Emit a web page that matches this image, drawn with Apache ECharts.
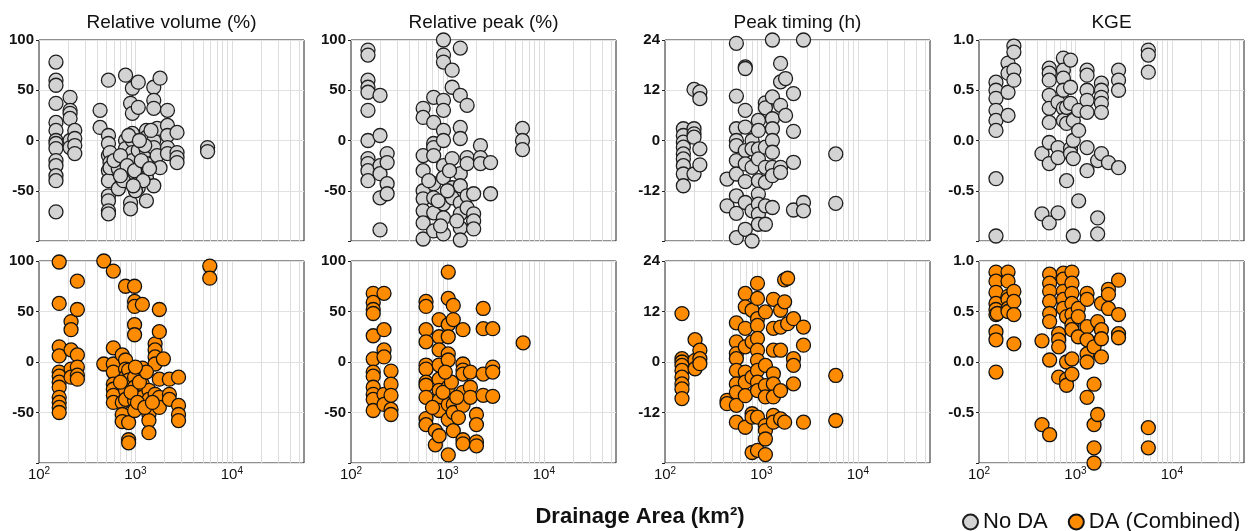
<!DOCTYPE html>
<html><head><meta charset="utf-8">
<script src="https://cdn.jsdelivr.net/npm/echarts@6/dist/echarts.min.js"></script>
<style>html,body{margin:0;padding:0;background:#fff}#c{width:1250px;height:531px}</style>
</head><body><div id="c"></div>
<script>
const panelTitles = ['Relative volume (%)', 'Relative peak (%)', 'Peak timing (h)', 'KGE'];
const yMins = [-100, -100, -24, -1];
const yMaxs = [100, 100, 24, 1];
const yIntervals = [50, 50, 12, 0.5];
const xTickExps = {2: '2', 3: '3', 4: '4'};
const gridTicks = [200,300,400,500,600,700,800,900,1000,2000,3000,4000,5000,6000,7000,8000,9000,10000,20000,30000,40000,50000];
const seriesNames = ['No DA', 'DA (Combined)'];

const volNoDA = [[150,78],[150,60],[150,55],[150,37],[150,18],[150,10],[150,0],[150,-3],[150,-8],[150,-20],[150,-25],[150,-35],[150,-40],[150,-71],
[210,43],[210,30],[210,27],[210,22],[210,0],[210,-7],[235,10],[235,2],[235,-5],[235,-13],[430,30],[430,13],
[525,60],[525,5],[525,-3],[525,-15],[525,-30],[525,-40],[525,-55],[525,-60],[525,-70],[525,-73],[545,-12],[545,-22],[545,-27],
[665,-28],[665,-48],[790,65],[790,0],[790,-8],[790,-33],[890,37],[890,-35],[890,-40],[890,-62],[890,-68],
[930,52],[930,27],[930,7],[930,0],[930,-12],[930,-20],[1070,58],[1070,33],[1070,-10],[1070,-33],[1070,-47],
[1300,10],[1300,3],[1300,-10],[1300,-23],[1300,-37],[1300,-60],[1550,53],[1550,40],[1550,32],[1550,0],[1550,-7],[1550,-45],
[1680,12],[1680,-15],[1800,62],[1800,-27],[2150,30],[2150,15],[2150,5],[2150,-7],[2150,-13],
[2700,8],[2700,-12],[2700,-17],[2700,-22],[5600,-7],[5600,-11],
[600,-20],[700,-15],[750,-40],[820,-25],[980,-30],[1150,-20],[1200,-40],[1400,-28],[1000,-50],[1250,-5],[850,5],[1100,0],[700,-35],[950,-45],[1450,10]];

const volDA = [[162,99],[162,58],[162,15],[162,6],[162,-10],[162,-14],[162,-20],[162,-25],[162,-35],[162,-40],[162,-45],[162,-50],
[215,40],[215,32],[215,12],[215,-7],[215,-15],[250,80],[250,52],[250,7],[250,-5],[250,-13],[250,-17],[470,100],[470,-2],
[590,90],[590,14],[590,-2],[590,-10],[590,-22],[590,-27],[590,-33],[590,-40],[730,7],[730,-40],[730,-52],[730,-59],
[790,75],[790,2],[790,-7],[790,-15],[790,-28],[790,-37],[850,-8],[850,-18],[850,-60],[850,-77],[850,-80],
[980,75],[980,60],[980,55],[980,37],[980,27],[980,-15],[980,-25],[980,-38],[980,-48],[1180,57],[1180,-6],[1180,-22],[1180,-35],
[1380,-28],[1380,-37],[1380,-45],[1380,-52],[1380,-58],[1380,-70],[1600,18],[1600,12],[1600,5],[1600,-2],[1600,-32],
[1770,52],[1770,30],[1770,-17],[1770,-35],[1770,-45],[1950,3],[2250,-17],[2250,-32],[2250,-37],
[2800,-15],[2800,-43],[2800,-52],[2800,-58],[5900,95],[5900,83],
[900,-30],[1050,-40],[1100,-20],[1250,-45],[700,-20],[1300,-10],[1500,-40],[1000,-5]];

const peakNoDA = [[150,90],[150,85],[150,60],[150,53],[150,48],[150,30],[150,0],[150,-18],[150,-23],[150,-30],[150,-40],
[200,45],[200,5],[200,-25],[200,-33],[200,-57],[200,-89],[237,-13],[237,-22],[237,-43],[237,-53],
[560,32],[560,23],[560,-15],[560,-30],[560,-50],[560,-58],[560,-70],[560,-82],[560,-98],
[720,43],[720,18],[720,-3],[720,-7],[720,-15],[720,-43],[720,-57],[720,-72],[720,-90],
[910,100],[910,85],[910,78],[910,40],[910,30],[910,10],[910,0],[910,-25],[910,-37],[910,-63],[910,-77],[910,-93],
[1120,70],[1120,53],[1120,-18],[1120,-47],[1120,-57],
[1360,92],[1360,45],[1360,13],[1360,2],[1360,-33],[1360,-45],[1360,-62],[1360,-73],[1360,-87],[1360,-99],
[1600,35],[1600,-17],[1600,-23],[1600,-55],[1600,-67],[1870,-53],[1870,-73],[1870,-80],[1870,-88],
[2200,-5],[2200,-17],[2200,-23],[2800,-22],[2800,-53],[6000,12],[6000,0],[6000,-9],
[640,-40],[800,-60],[1000,-50],[1250,-80],[1050,-30],[850,-85]];

const peakDA = [[170,68],[170,59],[170,52],[170,48],[170,26],[170,3],[170,-10],[170,-14],[170,-25],[170,-32],[170,-37],[170,-48],
[220,68],[220,32],[220,12],[220,5],[220,-32],[220,-42],[260,-9],[260,-22],[260,-33],[260,-47],[260,-52],
[600,60],[600,55],[600,32],[600,20],[600,-3],[600,-7],[600,-20],[600,-23],[600,-35],[600,-56],[600,-62],[750,-68],[750,-82],
[820,42],[820,25],[820,12],[820,-3],[820,-17],[820,-28],[820,-38],[820,-48],[820,-73],
[1020,89],[1020,63],[1020,37],[1020,25],[1020,8],[1020,2],[1020,-25],[1020,-42],[1020,-57],[1020,-92],
[1150,56],[1150,42],[1150,-42],[1150,-50],[1150,-68],
[1450,32],[1450,-2],[1450,-8],[1450,-12],[1450,-30],[1450,-43],[1450,-77],[1450,-81],[1730,-10],[1730,-25],[1730,-35],
[2000,-52],[2000,-62],[2000,-79],[2000,-83],[2350,53],[2350,33],[2350,-12],[2350,-33],
[2950,33],[2950,-5],[2950,-10],[2950,-34],[6100,19],
[900,-30],[1250,-35],[700,-45],[1100,-20],[1300,-55],[950,-10]];

const timingNoDA = [[155,2.8],[155,1.2],[155,-0.4],[155,-1.6],[155,-3.2],[155,-4.4],[155,-6],[155,-8],[155,-10.8],
[200,12.2],[200,2.8],[200,1.6],[200,0.8],[200,-8],[230,11.6],[230,10],[230,-2],[230,-5.8],[440,-9.2],[440,-15.6],
[550,23.2],[550,10.6],[550,2.8],[550,0],[550,-1.2],[550,-4.8],[550,-8],[550,-13.2],[550,-17.4],[550,-23.2],
[680,17.6],[680,17.2],[680,7.2],[680,3.2],[680,-2.4],[680,-5.6],[680,-9.8],[680,-14.8],[680,-21.2],
[800,0],[800,-2],[800,-6.4],[800,-16.8],[800,-24],
[930,4.8],[930,2.4],[930,-2],[930,-4.4],[930,-9.6],[930,-12.8],[930,-15.2],[930,-17.6],[930,-20],
[1100,9],[1100,7.8],[1100,-1.6],[1100,-6.4],[1100,-10],[1100,-15.6],[1100,-20],
[1300,24],[1300,10.4],[1300,5.2],[1300,2.8],[1300,0],[1300,-2.8],[1300,-6.4],[1300,-8.4],[1300,-16],
[1580,18.4],[1580,14],[1580,8.4],[1580,-6.4],[1580,-7.6],[1780,14.8],[1780,6],
[2150,11.2],[2150,2.2],[2150,-5.2],[2150,-16.6],[2730,24],[2730,-14.8],[2730,-16.8],[5900,-3.2],[5900,-15]];

const timingDA = [[150,11.5],[150,0.8],[150,0],[150,-0.8],[150,-2],[150,-3.6],[150,-5.2],[150,-6.4],[150,-8.7],
[205,5.3],[205,0.4],[205,-1.6],[230,2.8],[230,0.8],[230,-0.4],[440,-9.1],[440,-9.9],
[550,9.3],[550,4.8],[550,2],[550,0.8],[550,-2],[550,-5.2],[550,-7.2],[550,-10.3],[550,-14.3],
[680,16.3],[680,13.1],[680,8],[680,3.6],[680,-2.4],[680,-4.8],[680,-8],[680,-15.5],
[800,12.3],[800,4.8],[800,-3.6],[800,-12.3],[800,-13.1],[800,-21.5],
[910,18.7],[910,15.1],[910,10.3],[910,8.7],[910,5.6],[910,2.8],[910,0.4],[910,-2],[910,-4.8],[910,-6.8],[910,-13.1],[910,-21],
[1100,11.9],[1100,-0.8],[1100,-5.6],[1100,-8.3],[1100,-15.1],[1100,-16.3],[1100,-18.3],[1100,-22],
[1330,14.9],[1330,8],[1330,2.8],[1330,-2.8],[1330,-5.2],[1330,-8.3],[1330,-12.7],[1330,-14.3],
[1580,12.3],[1580,8.3],[1580,2.8],[1580,-6.8],[1580,-13.5],[1740,19.5],[1740,14.3],[1740,-14.3],[1870,19.9],[1870,9.1],
[2150,10.3],[2150,0.8],[2150,-0.8],[2150,-5.2],[2730,8.3],[2730,4],[2730,-14.3],[5900,-3.2],[5900,-13.9]];

const kgeNoDA = [[150,0.58],[150,0.5],[150,0.42],[150,0.3],[150,0.2],[150,0.1],[150,-0.38],[150,-0.95],
[200,0.77],[200,0.67],[200,0.48],[200,0.25],[230,0.94],[230,0.88],[230,0.7],[230,0.6],[450,-0.13],[450,-0.73],
[535,0.72],[535,0.67],[535,0.6],[535,0.45],[535,0.32],[535,0.18],[535,-0.02],[535,-0.23],[535,-0.82],
[660,0.38],[660,-0.07],[660,-0.17],[660,-0.72],[750,0.82],[750,0.7],[750,0.62],[750,0.5],[750,0.32],[750,0.2],
[810,0.33],[810,0.17],[810,-0.4],[890,0.8],[890,0.53],[890,0.37],[890,-0.08],[890,-0.13],
[950,0.2],[950,0],[950,-0.18],[950,-0.95],[1080,0.3],[1080,0.1],[1080,-0.6],
[1320,0.7],[1320,0.65],[1320,0.5],[1320,0.4],[1320,0.28],[1320,-0.07],[1320,-0.3],
[1700,-0.2],[1700,-0.77],[1700,-0.93],[1860,0.57],[1860,0.5],[1860,0.43],[1860,0.37],[1860,0.28],[1860,-0.13],
[2200,-0.22],[2800,0.7],[2800,0.6],[2800,0.5],[2800,-0.27],[5700,0.9],[5700,0.85],[5700,0.68]];

const kgeDA = [[150,0.89],[150,0.8],[150,0.69],[150,0.58],[150,0.52],[150,0.47],[150,0.3],[150,0.22],[150,-0.1],[155,0.48],
[200,0.89],[200,0.8],[200,0.65],[200,0.62],[200,0.53],[200,0.5],[230,0.7],[230,0.6],[230,0.47],[230,0.18],
[450,0.21],[450,-0.62],[540,0.87],[540,0.78],[540,0.7],[540,0.6],[540,0.48],[540,0.4],[540,0.02],[540,-0.72],
[670,0.28],[670,0.22],[670,0.15],[670,-0.15],[750,0.88],[750,0.82],[750,0.7],[750,0.62],[750,0.53],
[810,0.45],[810,0],[810,-0.17],[810,-0.23],
[920,0.89],[920,0.78],[920,0.68],[920,0.58],[920,0.47],[920,0.37],[920,0.32],[920,0.03],[920,-0.12],
[1070,0.53],[1070,0.45],[1070,0.25],[1320,0.68],[1320,0.62],[1320,0.35],[1320,0.22],[1320,0.08],[1320,0],[1320,-0.35],
[1560,0.15],[1560,-0.22],[1560,-0.62],[1560,-0.85],[1560,-1.0],[1700,0.4],[1700,-0.52],
[1860,0.58],[1860,0.32],[1860,0.23],[1860,0.05],[2200,0.72],[2200,0.67],[2200,0.53],
[2800,0.81],[2800,0.47],[2800,0.28],[2800,0.24],[5700,-0.65],[5700,-0.85]];

const panelData = [[volNoDA, peakNoDA, timingNoDA, kgeNoDA], [volDA, peakDA, timingDA, kgeDA]];

const FONT = '"Liberation Sans", Arial, sans-serif';
const lefts = [39, 351, 665, 979];
const W = 265;
const tops = [40, 261];
const heights = [201, 202];
const fills = ['#d3d3d3', '#ff8c00'];
const borders = ['#1e1e1e', '#111111'];

const grid = [], xAxis = [], yAxis = [], series = [];
for (let r = 0; r < 2; r++) {
  for (let c = 0; c < 4; c++) {
    const i = r * 4 + c;
    grid.push({left: lefts[c], top: tops[r], width: W, height: heights[r], show: true,
      borderColor: '#222', borderWidth: 1, backgroundColor: 'transparent'});
    xAxis.push({gridIndex: i, type: 'log', logBase: 10, min: 100, max: 56000,
      axisLine: {show: false}, axisTick: {show: false}, splitLine: {show: false},
      axisLabel: {show: r === 1, color: '#111', fontFamily: FONT, margin: 3,
        showMaxLabel: false,
        rich: {b: {fontSize: 15, lineHeight: 17, fontFamily: FONT, color: '#111'},
               s: {fontSize: 10, lineHeight: 10, verticalAlign: 'top', fontFamily: FONT, color: '#111'}},
        formatter: function (v) { const e = Math.log10(v); const k = Math.round(e);
          return Math.abs(e - k) < 1e-6 && xTickExps[k] ? '{b|10}{s|' + xTickExps[k] + '}' : ''; }}});
    const yMin = yMins[c];
    yAxis.push({gridIndex: i, type: 'value', min: yMin, max: yMaxs[c], interval: yIntervals[c],
      axisLine: {show: false}, axisTick: {show: true, length: 3, lineStyle: {color: '#222'}},
      splitLine: {show: true, lineStyle: {color: '#e2e2e2', width: 1}},
      axisLabel: {fontSize: 15, fontWeight: 'bold', color: '#111', fontFamily: FONT, margin: 5,
        formatter: function (v) { if (Math.abs(v - yMin) < 1e-9) return '';
          return c === 3 ? v.toFixed(1) : String(v); }}});
    series.push({type: 'scatter', xAxisIndex: i, yAxisIndex: i, data: [], silent: true, z: 1,
      markLine: {silent: true, symbol: 'none', animation: false, label: {show: false}, z: 1,
        lineStyle: {color: '#dcdcdc', width: 1, type: 'solid'},
        emphasis: {disabled: true},
        data: gridTicks.map(v => ({xAxis: v}))}});
    series.push({type: 'scatter', name: seriesNames[r], xAxisIndex: i, yAxisIndex: i, z: 10,
      data: panelData[r][c], symbol: 'circle', symbolSize: 14, clip: false,
      itemStyle: {color: fills[r], borderColor: borders[r], borderWidth: 1.3, opacity: 1}});
  }
}

const graphic = panelTitles.map((t, c) => ({type: 'text', x: lefts[c] + W / 2, y: 23,
  style: {text: t, align: 'center', verticalAlign: 'middle', font: '19px ' + FONT, fill: '#111'}}));
graphic.push({type: 'text', x: 640, y: 517,
  style: {text: 'Drainage Area (km²)', align: 'center', verticalAlign: 'middle', font: 'bold 22px ' + FONT, fill: '#111'}});

const chart = echarts.init(document.getElementById('c'), null, {renderer: 'canvas'});
chart.setOption({
  animation: false,
  backgroundColor: '#fff',
  grid, xAxis, yAxis, series, graphic,
  legend: {data: seriesNames, left: 957, top: 506, icon: 'circle', itemWidth: 15, itemHeight: 15, itemGap: 20,
    textStyle: {fontSize: 22, color: '#111', fontFamily: FONT}}
});
</script></body></html>
